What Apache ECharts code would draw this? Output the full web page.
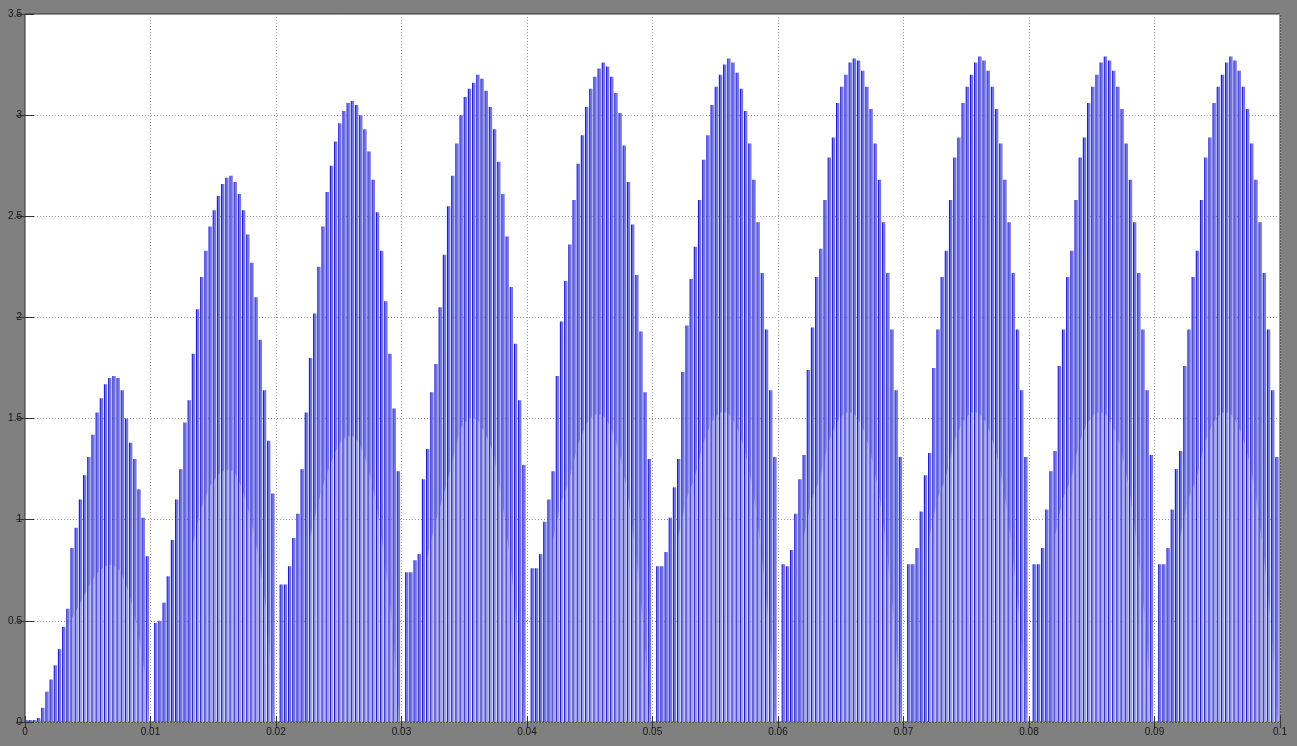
<!DOCTYPE html>
<html><head><meta charset="utf-8">
<script src="https://cdn.jsdelivr.net/npm/echarts@6/dist/echarts.min.js"></script>
<style>html,body{margin:0;padding:0;background:#808080}#c{width:1297px;height:746px}</style>
</head><body><div id="c"></div>
<script>
// sample spacing of the switching pulses (s)
const PULSE_PERIOD = 1 / 3000;

// pulse peak heights, one value per pulse (10 humps x 30 pulses)
const hump1 = [0.01,0.01,0.01,0.02,0.07,0.15,0.21,0.28,0.36,0.47,0.56,0.86,0.96,1.10,1.22,1.31,1.42,1.53,1.60,1.67,1.70,1.71,1.70,1.64,1.50,1.38,1.30,1.15,1.01,0.82];
const hump2 = [0,0.49,0.50,0.59,0.72,0.90,1.10,1.25,1.48,1.59,1.82,2.04,2.20,2.33,2.45,2.53,2.60,2.66,2.69,2.70,2.67,2.61,2.53,2.41,2.27,2.10,1.89,1.64,1.39,1.13];
const hump3 = [0,0.68,0.68,0.77,0.91,1.03,1.25,1.53,1.80,2.02,2.25,2.45,2.62,2.75,2.87,2.96,3.02,3.06,3.07,3.05,3.00,2.93,2.82,2.68,2.52,2.33,2.08,1.82,1.55,1.24];
const hump4 = [0,0.74,0.74,0.80,0.83,1.20,1.35,1.63,1.77,2.05,2.31,2.55,2.70,2.86,3.00,3.09,3.13,3.16,3.20,3.18,3.12,3.04,2.93,2.77,2.61,2.40,2.15,1.87,1.59,1.27];
const hump5 = [0,0.76,0.76,0.83,0.99,1.10,1.24,1.71,1.98,2.18,2.36,2.58,2.76,2.90,3.04,3.13,3.19,3.23,3.26,3.24,3.19,3.11,3.01,2.85,2.67,2.46,2.21,1.93,1.63,1.30];
const hump6 = [0,0.77,0.77,0.84,1.01,1.16,1.30,1.73,1.96,2.19,2.35,2.58,2.78,2.90,3.05,3.14,3.20,3.25,3.28,3.26,3.21,3.13,3.02,2.86,2.68,2.47,2.22,1.94,1.64,1.31];
const hump7 = [0,0.78,0.77,0.85,1.03,1.20,1.32,1.74,1.95,2.20,2.34,2.58,2.79,2.89,3.06,3.14,3.20,3.26,3.28,3.27,3.22,3.14,3.03,2.86,2.68,2.47,2.22,1.94,1.64,1.31];
const hump8 = [0,0.78,0.78,0.86,1.04,1.22,1.33,1.75,1.94,2.20,2.33,2.58,2.79,2.89,3.06,3.14,3.20,3.26,3.29,3.27,3.22,3.14,3.03,2.86,2.68,2.47,2.22,1.94,1.64,1.31];
const hump9 = [0,0.78,0.78,0.86,1.05,1.24,1.34,1.76,1.94,2.20,2.33,2.58,2.79,2.89,3.06,3.14,3.20,3.26,3.29,3.27,3.22,3.14,3.03,2.86,2.68,2.47,2.22,1.94,1.64,1.32];
const hump10 = [0,0.78,0.78,0.86,1.05,1.25,1.34,1.76,1.94,2.20,2.33,2.58,2.79,2.89,3.06,3.14,3.20,3.26,3.29,3.27,3.22,3.14,3.03,2.86,2.68,2.47,2.22,1.94,1.64,1.31];

// pale inner region outline, [pulse index, value]
const inner1 = [[10.5,0],[10.5,0.49],[13,0.58],[15,0.66],[17,0.73],[19,0.77],[21,0.78],[23,0.74],[25,0.63],[27,0.45],[29,0.2],[29.6,0]];
const inner2 = [[40,0],[40,0.87],[42,1.05],[44,1.16],[46,1.22],[48,1.25],[50,1.24],[52,1.15],[54,1.0],[56,0.8],[58,0.5],[59.5,0]];
const inner3 = [[68,0],[68,0.9],[70,1.08],[72,1.22],[74,1.33],[76,1.40],[78,1.42],[80,1.38],[82,1.26],[84,1.08],[86,0.8],[88,0.45],[89.5,0]];
const inner4 = [[96,0],[96,0.8],[98,0.98],[100,1.12],[102,1.27],[104,1.45],[106,1.50],[108,1.50],[110,1.43],[112,1.33],[114,1.1],[116,0.8],[118,0.4],[119.5,0]];
const inner5 = [[126,0],[126,0.88],[128,1.08],[130,1.19],[132,1.36],[134,1.47],[136,1.52],[138,1.52],[140,1.46],[142,1.34],[144,1.14],[146,0.84],[148,0.44],[149.5,0]];
const inner6 = [[156,0],[156,0.9],[158,1.1],[160,1.2],[162,1.37],[164,1.48],[166,1.53],[168,1.53],[170,1.47],[172,1.35],[174,1.15],[176,0.85],[178,0.45],[179.5,0]];
const inner7 = [[186,0],[186,0.9],[188,1.1],[190,1.2],[192,1.38],[194,1.48],[196,1.53],[198,1.53],[200,1.47],[202,1.35],[204,1.15],[206,0.85],[208,0.45],[209.5,0]];
const inner8 = [[216,0],[216,0.9],[218,1.1],[220,1.2],[222,1.38],[224,1.48],[226,1.53],[228,1.53],[230,1.47],[232,1.35],[234,1.15],[236,0.85],[238,0.45],[239.5,0]];
const inner9 = [[246,0],[246,0.9],[248,1.1],[250,1.2],[252,1.38],[254,1.48],[256,1.53],[258,1.53],[260,1.47],[262,1.35],[264,1.15],[266,0.85],[268,0.45],[269.5,0]];
const inner10 = [[276,0],[276,0.9],[278,1.1],[280,1.2],[282,1.38],[284,1.48],[286,1.53],[288,1.53],[290,1.47],[292,1.35],[294,1.15],[296,0.85],[298,0.45],[299.5,0]];

const xTickLabels = ['0','0.01','0.02','0.03','0.04','0.05','0.06','0.07','0.08','0.09','0.1'];
const yTickLabels = ['0','0.5','1','1.5','2','2.5','3','3.5'];

const heights = [].concat(hump1,hump2,hump3,hump4,hump5,hump6,hump7,hump8,hump9,hump10);
const pulseData = heights.map((h, k) => [k * PULSE_PERIOD, h]);
const innerData = [].concat(inner1,inner2,inner3,inner4,inner5,inner6,inner7,inner8,inner9,inner10)
  .map(p => [p[0] * PULSE_PERIOD, p[1]]);

const DARK = '#2222c0', MEDIUM = '#7474f3', PALE = '#dcdcfb';
const tickStyle = {color:'#333333', width:1};
const labelFont = {fontSize:10, color:'#151515', fontFamily:'Liberation Sans, Arial, sans-serif'};

function pulseRenderer(kind){
  return function(params, api){
    const t = api.value(0), h = api.value(1);
    const base = api.coord([t, 0]);
    const top = api.coord([t, h]);
    const w = api.size([PULSE_PERIOD, 0])[0];
    const hh = base[1] - top[1];
    if (kind === 'medium') {
      return {type:'rect', shape:{x:base[0]+0.5, y:top[1], width:w*0.55, height:hh}, style:{fill:MEDIUM}};
    }
    return {type:'rect', shape:{x:base[0]-0.6, y:top[1], width:1.2, height:hh}, style:{fill:DARK}};
  };
}

const chart = echarts.init(document.getElementById('c'), null, {renderer:'canvas'});
chart.setOption({
  backgroundColor:'#808080',
  animation:false,
  grid:{left:25,right:17,top:14,bottom:24,show:true,backgroundColor:'#ffffff',borderColor:'#333333',borderWidth:1},
  xAxis:[
    {type:'value',min:0,max:0.1,interval:0.01,position:'bottom',
     axisLine:{show:false},axisTick:{inside:true,length:6,lineStyle:tickStyle},
     axisLabel:Object.assign({margin:5,showMinLabel:true,showMaxLabel:true,
       formatter:v=>xTickLabels[Math.round(v/0.01)]||''},labelFont),
     splitLine:{show:true,lineStyle:{color:'#9a9a9a',type:[1,2],width:1}}},
    {type:'value',min:0,max:0.1,interval:0.01,position:'top',
     axisLine:{show:false},axisTick:{inside:true,length:6,lineStyle:tickStyle},
     axisLabel:{show:false},splitLine:{show:false}}
  ],
  yAxis:[
    {type:'value',min:0,max:3.5,interval:0.5,position:'left',
     axisLine:{show:false},axisTick:{inside:true,length:9,lineStyle:tickStyle},
     axisLabel:Object.assign({margin:3,showMinLabel:true,showMaxLabel:true,
       formatter:v=>yTickLabels[Math.round(v/0.5)]||''},labelFont),
     splitLine:{show:true,lineStyle:{color:'#9a9a9a',type:[1,2],width:1}}},
    {type:'value',min:0,max:3.5,interval:0.5,position:'right',
     axisLine:{show:false},axisTick:{inside:true,length:9,lineStyle:tickStyle},
     axisLabel:{show:false},splitLine:{show:false}}
  ],
  series:[
    {type:'custom',data:pulseData,z:1,clip:true,silent:true,renderItem:pulseRenderer('medium')},
    {type:'line',data:innerData,symbol:'none',lineStyle:{width:0},
     areaStyle:{color:PALE,opacity:0.42},z:2,silent:true},
    {type:'custom',data:pulseData,z:3,clip:true,silent:true,renderItem:pulseRenderer('dark')}
  ]
});
</script></body></html>
